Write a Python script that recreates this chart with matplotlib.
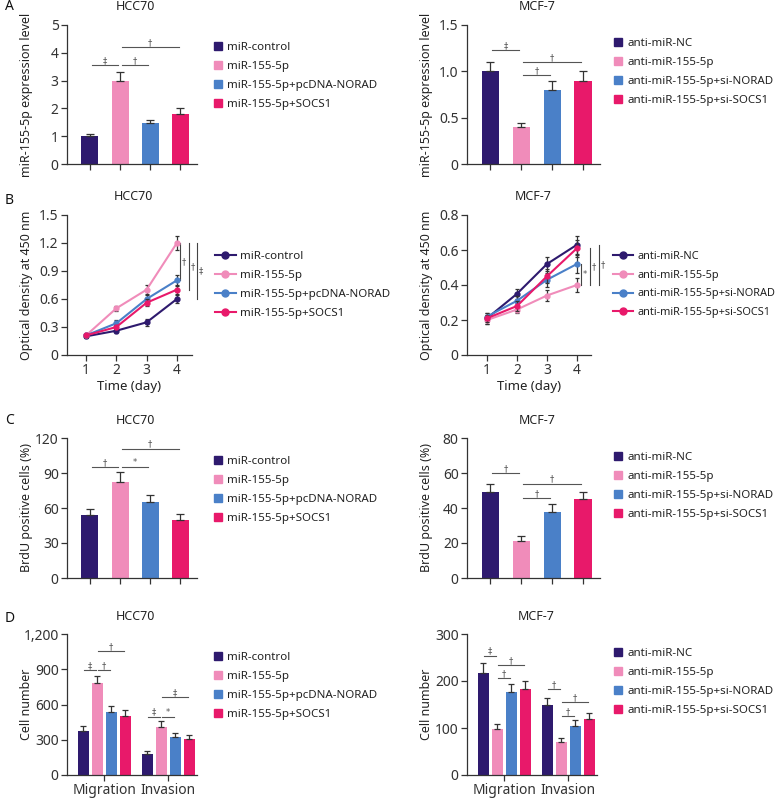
import matplotlib
matplotlib.use("Agg")
import matplotlib.pyplot as plt
from matplotlib.lines import Line2D
from matplotlib.patches import Patch
from matplotlib.ticker import FuncFormatter
import numpy as np

plt.rcParams["font.family"] = ["Noto Sans", "DejaVu Sans"]
plt.rcParams["text.color"] = "#222222"
plt.rcParams["axes.labelcolor"] = "#222222"
plt.rcParams["xtick.color"] = "#333333"
plt.rcParams["ytick.color"] = "#333333"

W, H = 782, 800

# ---- data ----
hcc_groups = ["miR-control", "miR-155-5p", "miR-155-5p+pcDNA-NORAD", "miR-155-5p+SOCS1"]
mcf_groups = ["anti-miR-NC", "anti-miR-155-5p", "anti-miR-155-5p+si-NORAD", "anti-miR-155-5p+si-SOCS1"]
colors = ["#2e1a6e", "#f08cba", "#4a80c8", "#e8196a"]

# A: expression level
hcc_expr = [1.0, 3.0, 1.48, 1.8]
hcc_expr_err = [0.09, 0.32, 0.11, 0.2]
mcf_expr = [1.0, 0.4, 0.8, 0.9]
mcf_expr_err = [0.1, 0.04, 0.1, 0.1]

# B: optical density
days = [1, 2, 3, 4]
hcc_od = [[0.20, 0.26, 0.35, 0.60],
          [0.21, 0.50, 0.70, 1.20],
          [0.21, 0.34, 0.60, 0.80],
          [0.21, 0.30, 0.56, 0.70]]
hcc_od_err = [[0.02, 0.02, 0.04, 0.04],
              [0.02, 0.03, 0.05, 0.08],
              [0.02, 0.03, 0.04, 0.06],
              [0.02, 0.02, 0.04, 0.05]]
mcf_od = [[0.21, 0.35, 0.52, 0.63],
          [0.20, 0.26, 0.34, 0.40],
          [0.22, 0.31, 0.43, 0.52],
          [0.21, 0.28, 0.45, 0.61]]
mcf_od_err = [[0.03, 0.03, 0.04, 0.05],
              [0.02, 0.02, 0.03, 0.04],
              [0.02, 0.03, 0.04, 0.05],
              [0.02, 0.03, 0.04, 0.05]]

# C: BrdU positive cells
hcc_brdu = [54, 82, 65, 50]
hcc_brdu_err = [5, 8.5, 6, 5]
mcf_brdu = [49, 21.3, 38, 45]
mcf_brdu_err = [5, 2.5, 4.2, 4]

# D: migration / invasion cell numbers
assays = ["Migration", "Invasion"]
hcc_cells = [[375, 182], [780, 411], [540, 323], [498, 309]]
hcc_cells_err = [[45, 19], [65, 46], [50, 34], [52, 29]]
mcf_cells = [[218, 148], [98, 71], [176, 105], [182, 119]]
mcf_cells_err = [[20, 16], [11, 8], [18, 11], [18, 13]]

# significance marks: (bar_i, bar_j, y, symbol)
sig_a_hcc = [(0, 1, 3.55, "‡"), (1, 2, 3.55, "†"), (1, 3, 4.2, "†")]
sig_a_mcf = [(0, 1, 1.23, "‡"), (1, 3, 1.10, "†"), (1, 2, 0.96, "†")]
sig_c_hcc = [(0, 1, 95, "†"), (1, 2, 95, "*"), (1, 3, 111, "†")]
sig_c_mcf = [(0, 1, 60, "†"), (1, 3, 54, "†"), (1, 2, 45.5, "†")]
# (group, bar_i, bar_j, y, symbol)
sig_d_hcc = [(0, 0, 1, 894, "‡"), (0, 1, 2, 894, "†"), (0, 1, 3, 1053, "†"),
             (1, 0, 1, 496, "‡"), (1, 1, 2, 496, "*"), (1, 1, 3, 664, "‡")]
sig_d_mcf = [(0, 0, 1, 254, "‡"), (0, 1, 3, 234, "†"), (0, 1, 2, 206, "†"),
             (1, 0, 1, 182, "†"), (1, 1, 3, 155, "†"), (1, 1, 2, 126, "†")]
# vertical marks on day 4: (x, y_low, y_high, symbol)
sig_b_hcc = [(4.10, 0.8, 1.2, "†"), (4.40, 0.7, 1.2, "†"), (4.66, 0.6, 1.2, "‡")]
sig_b_mcf = [(4.13, 0.40, 0.52, "*"), (4.43, 0.40, 0.61, "†"), (4.73, 0.40, 0.63, "†")]

fig = plt.figure(figsize=(W / 100, H / 100), dpi=100)


def add_ax(x0, y0, x1, y1):
    ax = fig.add_axes([x0 / W, 1 - y1 / H, (x1 - x0) / W, (y1 - y0) / H])
    ax.px_w = x1 - x0
    return ax


def style(ax, yticks, fmt, ylabel, title):
    for s in ("top", "right"):
        ax.spines[s].set_visible(False)
    for s in ("left", "bottom"):
        ax.spines[s].set_color("#333333")
        ax.spines[s].set_linewidth(0.9)
    ax.set_ylim(yticks[0], yticks[-1])
    ax.set_yticks(yticks)
    ax.yaxis.set_major_formatter(FuncFormatter(lambda v, p: "0" if v == 0 else fmt.format(v)))
    ax.tick_params(length=4, width=0.9, labelsize=10, pad=2)
    ax.set_ylabel(ylabel, fontsize=9)
    ax.yaxis.set_label_coords(-34 / ax.px_w, 0.5)
    ax.annotate(title, (0.53, 1), xycoords="axes fraction", xytext=(0, 18),
                textcoords="offset pixels", ha="center", va="center", fontsize=9)


def hline_sig(ax, x1, x2, y, sym, gap=0.06):
    ax.plot([x1 + gap, x2 - gap], [y, y], color="#555555", lw=0.8, clip_on=False)
    ax.text((x1 + x2) / 2, y, sym, ha="center", va="bottom", fontsize=6,
            color="#555555", family="DejaVu Sans")


def bar_panel(ax, values, errs, sigs):
    x = np.arange(len(values))
    ax.bar(x, values, width=0.56, color=colors, zorder=2)
    ax.errorbar(x, values, yerr=[np.zeros(len(errs)), errs], fmt="none",
                ecolor="#333333", elinewidth=0.9, capsize=3, capthick=0.9, zorder=3)
    ax.set_xlim(-0.76, 3.55)
    ax.set_xticks(x)
    ax.set_xticklabels([])
    for i, j, y, sym in sigs:
        hline_sig(ax, x[i], x[j], y, sym)


def line_panel(ax, series, errs, sigs, xlim):
    for k in range(len(series)):
        ax.errorbar(days, series[k], yerr=errs[k], color=colors[k], lw=1.5,
                    marker="o", markersize=3.5, ecolor="#333333", elinewidth=0.9,
                    capsize=1.5, capthick=0.9, zorder=3 + k)
    ax.set_xlim(*xlim)
    ax.set_xticks(days)
    ax.set_xlabel("Time (day)", fontsize=9.5, labelpad=1)
    for xv, lo, hi, sym in sigs:
        ax.plot([xv, xv], [lo, hi], color="#444444", lw=0.8, clip_on=False)
        ax.text(xv + 0.13, (lo + hi) / 2, sym, ha="center", va="center",
                fontsize=6, color="#555555", family="DejaVu Sans")


def group_panel(ax, values, errs, sigs):
    g = np.arange(len(assays))
    step = 0.219
    offs = (np.arange(len(values)) - 1.5) * step
    for k in range(len(values)):
        ax.bar(g + offs[k], values[k], width=0.17, color=colors[k], zorder=2)
        ax.errorbar(g + offs[k], values[k], yerr=[np.zeros(len(g)), errs[k]], fmt="none",
                    ecolor="#333333", elinewidth=0.9, capsize=2.5, capthick=0.9, zorder=3)
    ax.set_xlim(-0.58, 1.45)
    ax.set_xticks(g)
    ax.set_xticklabels(assays, fontsize=10.5)
    for grp, i, j, y, sym in sigs:
        hline_sig(ax, grp + offs[i], grp + offs[j], y, sym, gap=0.02)


def bar_legend(ax, labels, x, y):
    handles = [Patch(color=c) for c in colors]
    ax.legend(handles, labels, loc="upper left", bbox_to_anchor=(x / W, 1 - y / H),
              bbox_transform=fig.transFigure, frameon=False, fontsize=8.3,
              borderpad=0, borderaxespad=0, handlelength=0.7, handleheight=0.7,
              handletextpad=0.45, labelspacing=0.68)


def line_legend(ax, labels, x, y, size=8.3):
    handles = [Line2D([], [], color=c, lw=1.5, marker="o", markersize=5) for c in colors]
    ax.legend(handles, labels, loc="upper left", bbox_to_anchor=(x / W, 1 - y / H),
              bbox_transform=fig.transFigure, frameon=False, fontsize=size,
              borderpad=0, borderaxespad=0, handlelength=1.8,
              handletextpad=0.4, labelspacing=0.7)


# ---- A ----
ax = add_ax(67, 25, 197, 164)
bar_panel(ax, hcc_expr, hcc_expr_err, sig_a_hcc)
style(ax, [0, 1, 2, 3, 4, 5], "{:g}", "miR-155-5p expression level", "HCC70")
bar_legend(ax, hcc_groups, 214, 42)

ax = add_ax(467, 25, 600, 164)
bar_panel(ax, mcf_expr, mcf_expr_err, sig_a_mcf)
style(ax, [0, 0.5, 1.0, 1.5], "{:.1f}", "miR-155-5p expression level", "MCF-7")
bar_legend(ax, mcf_groups, 614, 38)

# ---- B ----
ax = add_ax(67, 215, 192, 355)
line_panel(ax, hcc_od, hcc_od_err, sig_b_hcc, (0.37, 4.5))
style(ax, [0, 0.3, 0.6, 0.9, 1.2, 1.5], "{:.1f}", "Optical density at 450 nm", "HCC70")
line_legend(ax, hcc_groups, 215, 251)

ax = add_ax(467, 215, 591, 355)
line_panel(ax, mcf_od, mcf_od_err, sig_b_mcf, (0.33, 4.47))
style(ax, [0, 0.2, 0.4, 0.6, 0.8], "{:.1f}", "Optical density at 450 nm", "MCF-7")
line_legend(ax, mcf_groups, 613, 251, size=7.9)

# ---- C ----
ax = add_ax(67, 438, 197, 578)
bar_panel(ax, hcc_brdu, hcc_brdu_err, sig_c_hcc)
style(ax, [0, 30, 60, 90, 120], "{:g}", "BrdU positive cells (%)", "HCC70")
bar_legend(ax, hcc_groups, 214, 456)

ax = add_ax(467, 438, 600, 578)
bar_panel(ax, mcf_brdu, mcf_brdu_err, sig_c_mcf)
style(ax, [0, 20, 40, 60, 80], "{:g}", "BrdU positive cells (%)", "MCF-7")
bar_legend(ax, mcf_groups, 614, 452)

# ---- D ----
ax = add_ax(67, 634, 197, 775)
group_panel(ax, hcc_cells, hcc_cells_err, sig_d_hcc)
style(ax, [0, 300, 600, 900, 1200], "{:,.0f}", "Cell number", "HCC70")
bar_legend(ax, hcc_groups, 214, 652)

ax = add_ax(467, 634, 597, 775)
group_panel(ax, mcf_cells, mcf_cells_err, sig_d_mcf)
style(ax, [0, 100, 200, 300], "{:g}", "Cell number", "MCF-7")
bar_legend(ax, mcf_groups, 614, 648)

# panel letters
for letter, ypx in [("A", 7), ("B", 200), ("C", 420), ("D", 618)]:
    fig.text(5 / W, 1 - ypx / H, letter, fontsize=10, fontweight="bold",
             ha="left", va="center", color="#111111")

fig.savefig("out.png", dpi=100)
